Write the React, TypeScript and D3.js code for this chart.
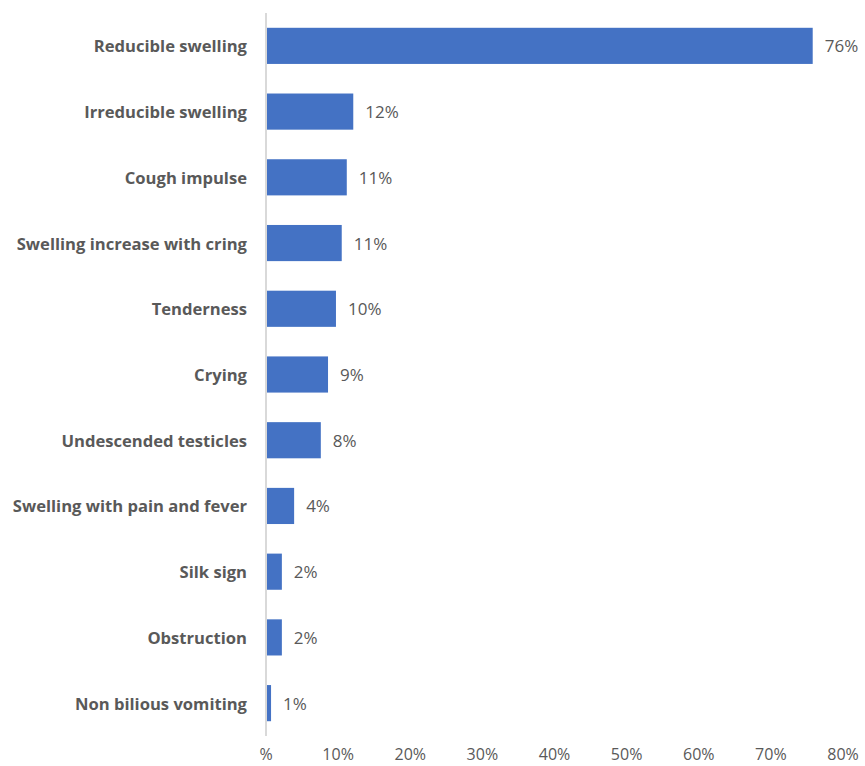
import React from "react";
import * as d3 from "d3";

const categories = [
  "Reducible swelling",
  "Irreducible swelling",
  "Cough impulse",
  "Swelling increase with cring",
  "Tenderness",
  "Crying",
  "Undescended testicles",
  "Swelling with pain and fever",
  "Silk sign",
  "Obstruction",
  "Non bilious vomiting",
];
const values = [75.8, 12.1, 11.2, 10.5, 9.7, 8.6, 7.6, 3.9, 2.2, 2.2, 0.7];
const valueLabels = ["76%", "12%", "11%", "11%", "10%", "9%", "8%", "4%", "2%", "2%", "1%"];
const ticks = [0, 10, 20, 30, 40, 50, 60, 70, 80];
const tickLabels = ["%", "10%", "20%", "30%", "40%", "50%", "60%", "70%", "80%"];

const W = 865;
const H = 766;
const left = 266;
const right = 843;
const top = 13;
const bottom = 736;

export default function App() {
  const x = d3.scaleLinear().domain([0, 80]).range([left, right]);
  const y = d3
    .scaleBand<string>()
    .domain(categories)
    .range([top, bottom])
    .paddingInner(0.45)
    .paddingOuter(0.225);
  const font = "'Open Sans', 'DejaVu Sans', sans-serif";
  return (
    <svg
      width={W}
      height={H}
      style={{ position: "absolute", left: 0, top: 0, background: "#fff" }}
      fontFamily={font}
    >
      {categories.map((c, i) => (
        <g key={c}>
          <rect
            x={x(0)}
            y={y(c)!}
            width={x(values[i]) - x(0)}
            height={y.bandwidth()}
            fill="#4472C4"
          />
          <text
            x={247}
            y={y(c)! + y.bandwidth() / 2}
            textAnchor="end"
            dominantBaseline="central"
            fontSize={16.6}
            fontWeight="bold"
            fill="#595959"
          >
            {c}
          </text>
          <text
            x={x(values[i]) + 12}
            y={y(c)! + y.bandwidth() / 2}
            dominantBaseline="central"
            fontSize={17}
            fill="#595959"
          >
            {valueLabels[i]}
          </text>
        </g>
      ))}
      <line x1={x(0)} x2={x(0)} y1={top} y2={bottom} stroke="#d9d9d9" strokeWidth={2} />
      {ticks.map((t, i) => (
        <text
          key={t}
          x={x(t)}
          y={760}
          textAnchor="middle"
          fontSize={16}
          fill="#595959"
        >
          {tickLabels[i]}
        </text>
      ))}
    </svg>
  );
}
